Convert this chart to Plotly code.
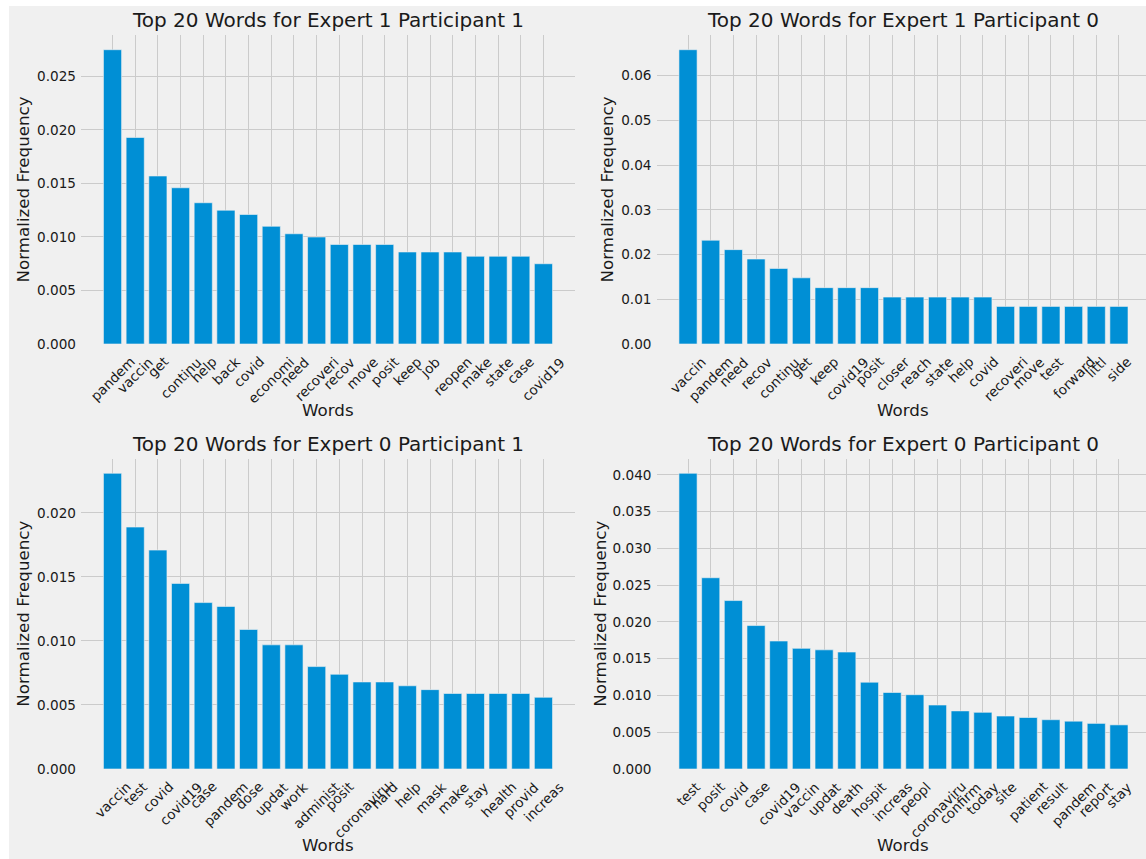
import plotly.graph_objects as go

# Word frequency data per group
e1p1_words = ["pandem", "vaccin", "get", "continu", "help", "back", "covid", "economi", "need", "recoveri",
              "recov", "move", "posit", "keep", "job", "reopen", "make", "state", "case", "covid19"]
e1p1_freq = [0.0275, 0.0193, 0.0157, 0.0146, 0.0132, 0.0125, 0.0121, 0.0110, 0.0103, 0.0100,
             0.0093, 0.0093, 0.0093, 0.0086, 0.0086, 0.0086, 0.0082, 0.0082, 0.0082, 0.0075]

e1p0_words = ["vaccin", "pandem", "need", "recov", "continu", "get", "keep", "covid19", "posit", "closer",
              "reach", "state", "help", "covid", "recoveri", "move", "test", "forward", "littl", "side"]
e1p0_freq = [0.0658, 0.0232, 0.0211, 0.0190, 0.0169, 0.0148, 0.0126, 0.0126, 0.0126, 0.0105,
             0.0105, 0.0105, 0.0105, 0.0105, 0.0084, 0.0084, 0.0084, 0.0084, 0.0084, 0.0084]

e0p1_words = ["vaccin", "test", "covid", "covid19", "case", "pandem", "dose", "updat", "work", "administ",
              "posit", "coronaviru", "hard", "help", "mask", "make", "stay", "health", "provid", "increas"]
e0p1_freq = [0.0231, 0.0189, 0.0171, 0.0145, 0.0130, 0.0127, 0.0109, 0.0097, 0.0097, 0.0080,
             0.0074, 0.0068, 0.0068, 0.0065, 0.0062, 0.0059, 0.0059, 0.0059, 0.0059, 0.0056]

e0p0_words = ["test", "posit", "covid", "case", "covid19", "vaccin", "updat", "death", "hospit", "increas",
              "peopl", "coronaviru", "confirm", "today", "site", "patient", "result", "pandem", "report", "stay"]
e0p0_freq = [0.0402, 0.0260, 0.0229, 0.0195, 0.0174, 0.0164, 0.0162, 0.0159, 0.0118, 0.0104,
             0.0101, 0.0087, 0.0079, 0.0077, 0.0072, 0.0070, 0.0067, 0.0065, 0.0062, 0.0060]

panel_titles = ["Top 20 Words for Expert 1 Participant 1", "Top 20 Words for Expert 1 Participant 0",
                "Top 20 Words for Expert 0 Participant 1", "Top 20 Words for Expert 0 Participant 0"]

W, H = 1146, 859
BG = "#f0f0f0"
GRID = "#cbcbcb"
BAR = "#008fd5"
FONT = "DejaVu Sans"
INK = "#1a1a1a"
TICK_SIZE = 13.6

panels = [
    dict(words=e1p1_words, freq=e1p1_freq, xdom=(81, 575), ydom=(35, 344), dtick=0.005, fmt=".3f",
         ylab_x=23, words_dy=66),
    dict(words=e1p0_words, freq=e1p0_freq, xdom=(656.5, 1146), ydom=(35, 344), dtick=0.01, fmt=".2f",
         ylab_x=607, words_dy=66),
    dict(words=e0p1_words, freq=e0p1_freq, xdom=(81, 575), ydom=(458.5, 769), dtick=0.005, fmt=".3f",
         ylab_x=23, words_dy=76),
    dict(words=e0p0_words, freq=e0p0_freq, xdom=(656.5, 1146), ydom=(458.5, 769), dtick=0.005, fmt=".3f",
         ylab_x=600, words_dy=76),
]

fig = go.Figure()
annotations = []
unit_px = 22.68  # pixels per category step

for k, p in enumerate(panels):
    n = k + 1
    xa = "x" if n == 1 else f"x{n}"
    ya = "y" if n == 1 else f"y{n}"
    fig.add_trace(go.Bar(
        x=p["words"], y=p["freq"], xaxis=xa, yaxis=ya, width=0.8,
        marker=dict(color=BAR, line=dict(color=BG, width=0.6)), showlegend=False,
    ))
    x0, x1 = p["xdom"]
    top, bot = p["ydom"]
    ymax = max(p["freq"]) * 1.05
    xr_right = -1.39 + (x1 - x0) / unit_px
    xkey = "xaxis" if n == 1 else f"xaxis{n}"
    ykey = "yaxis" if n == 1 else f"yaxis{n}"
    fig.update_layout(**{
        xkey: dict(domain=[x0 / W, x1 / W], anchor=ya, type="category", automargin=False,
                   categoryorder="array", categoryarray=p["words"],
                   range=[-1.39, xr_right], showgrid=True, gridcolor=GRID, gridwidth=1,
                   showticklabels=False, ticks="", showline=False, zeroline=False, fixedrange=True),
        ykey: dict(domain=[(H - bot) / H, (H - top) / H], anchor=xa, automargin=False,
                   range=[0, ymax], dtick=p["dtick"], tick0=0, tickformat=p["fmt"],
                   showgrid=True, gridcolor=GRID, gridwidth=1, zeroline=False, showline=False,
                   ticks="", ticklabelstandoff=4,
                   tickfont=dict(family=FONT, size=TICK_SIZE, color=INK)),
    })
    # rotated category labels, centred under each bar
    for w in p["words"]:
        annotations.append(dict(
            x=w, xref=xa, y=(H - bot) / H, yref="paper", yanchor="top", xanchor="center",
            yshift=-7, text=w, textangle=-45, showarrow=False,
            font=dict(family=FONT, size=TICK_SIZE, color=INK),
        ))
    cx = (x0 + (x0 + 21.78 * unit_px)) / 2
    # panel title
    annotations.append(dict(
        x=cx / W, xref="paper", y=(H - (top - 15)) / H, yref="paper", yanchor="middle", xanchor="center",
        text=panel_titles[k], showarrow=False, font=dict(family=FONT, size=20, color=INK),
    ))
    # axis titles
    annotations.append(dict(
        x=cx / W, xref="paper", y=(H - (bot + p["words_dy"])) / H, yref="paper", yanchor="middle",
        xanchor="center", text="Words", showarrow=False, font=dict(family=FONT, size=16.7, color=INK),
    ))
    annotations.append(dict(
        x=p["ylab_x"] / W, xref="paper", y=(H - (top + bot) / 2) / H, yref="paper",
        yanchor="middle", xanchor="center", textangle=-90,
        text="Normalized Frequency", showarrow=False, font=dict(family=FONT, size=16.7, color=INK),
    ))

fig.update_layout(
    width=W, height=H, margin=dict(l=0, r=0, t=0, b=0, pad=0, autoexpand=False),
    paper_bgcolor=BG, plot_bgcolor=BG,
    annotations=annotations,
    shapes=[
        dict(type="rect", xref="paper", yref="paper", x0=0, x1=9 / W, y0=0, y1=1,
             fillcolor="white", line=dict(width=0), layer="below"),
        dict(type="rect", xref="paper", yref="paper", x0=0, x1=1, y0=(H - 6) / H, y1=1,
             fillcolor="white", line=dict(width=0), layer="below"),
    ],
    font=dict(family=FONT),
)

fig.write_html("out.html")
